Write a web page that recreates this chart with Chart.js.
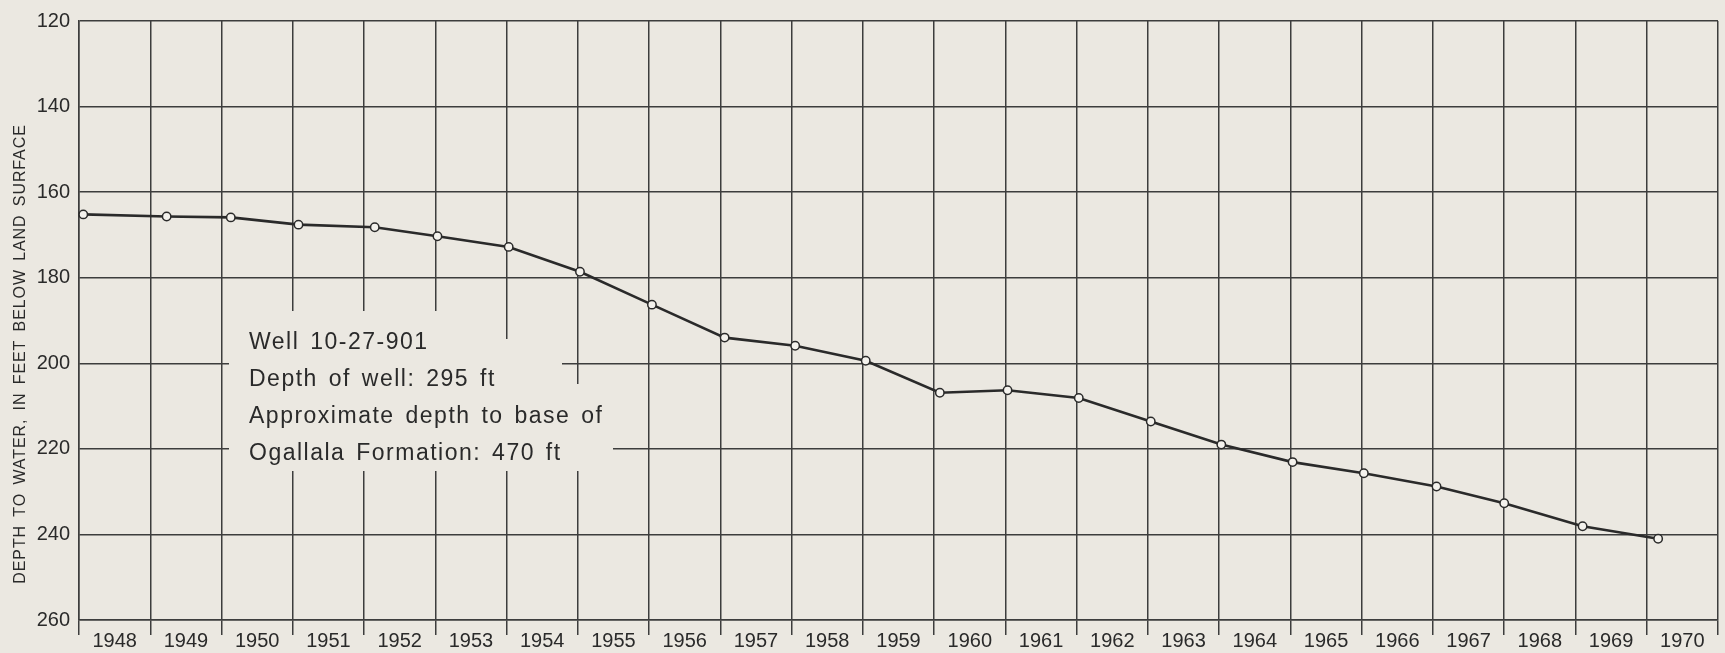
<!DOCTYPE html>
<html>
<head>
<meta charset="utf-8">
<title>Well 10-27-901 hydrograph</title>
<script src="https://cdn.jsdelivr.net/npm/chart.js@4/dist/chart.umd.min.js"></script>
<style>
  html, body { margin: 0; padding: 0; background: #ebe8e1; }
  canvas { display: block; }
</style>
</head>
<body>
<canvas id="hydrograph" width="1725" height="653"></canvas>
<script>
// Measurement dates (decimal years) and depth to water, feet below land surface
const measuredAt = [1948.06, 1949.23, 1950.13, 1951.08, 1952.15, 1953.03, 1954.03, 1955.03,
  1956.04, 1957.06, 1958.05, 1959.04, 1960.08, 1961.03, 1962.03, 1963.04, 1964.03,
  1965.03, 1966.03, 1967.05, 1968.0, 1969.1, 1970.16];
const depthToWater = [165.2, 165.7, 165.9, 167.6, 168.2, 170.3, 172.8, 178.6,
  186.3, 194.0, 195.9, 199.4, 206.9, 206.3, 208.1, 213.6, 219.0,
  223.1, 225.7, 228.8, 232.7, 238.1, 241.0];

const yearLabels = ['1948', '1949', '1950', '1951', '1952', '1953', '1954', '1955', '1956',
  '1957', '1958', '1959', '1960', '1961', '1962', '1963', '1964', '1965', '1966', '1967',
  '1968', '1969', '1970'];
const depthTicks = [120, 140, 160, 180, 200, 220, 240, 260];

const wellNotes = ['Well 10-27-901', 'Depth of well: 295 ft', 'Approximate depth to base of',
  'Ogallala Formation: 470 ft'];
const axisTitle = 'DEPTH TO WATER, IN FEET BELOW LAND SURFACE';

const paper = '#ebe8e1';
const ink = '#2a2a2a';
const gridInk = '#3d3d3d';
const face = '"Liberation Sans", Arial, sans-serif';

// blank patches behind the note so the grid doesn't run through the lettering
const noteMask = [[150, 290, 251, 40], [150, 318, 333, 47], [150, 363, 391, 42], [150, 405, 384, 45]];

const sheetText = {
  id: 'sheetText',
  beforeDatasetsDraw(chart) {
    const { ctx, chartArea: a } = chart;
    ctx.save();
    ctx.fillStyle = paper;
    noteMask.forEach(([x, y, w, h]) => ctx.fillRect(a.left + x, a.top + y, w, h));
    ctx.fillStyle = ink;
    ctx.font = '23px ' + face;
    ctx.letterSpacing = '1.5px';
    ctx.wordSpacing = '3px';
    ctx.textBaseline = 'alphabetic';
    wellNotes.forEach((line, i) => ctx.fillText(line, a.left + 170, a.top + 328 + i * 37));
    ctx.restore();
  },
  afterDraw(chart) {
    const { ctx, chartArea: a } = chart;
    const xs = chart.scales.x;
    ctx.save();
    ctx.fillStyle = ink;

    // year names sit in the middle of each year's column
    ctx.font = '20px ' + face;
    ctx.textAlign = 'center';
    ctx.textBaseline = 'alphabetic';
    yearLabels.forEach(y => {
      const yr = Number(y);
      const cx = (xs.getPixelForValue(yr) + xs.getPixelForValue(yr + 1)) / 2;
      ctx.fillText(y, cx, a.bottom + 27);
    });

    // vertical axis title
    ctx.font = '16px ' + face;
    ctx.letterSpacing = '0.9px';
    ctx.wordSpacing = '3px';
    ctx.textBaseline = 'middle';
    ctx.translate(21, 354);
    ctx.rotate(-Math.PI / 2);
    ctx.fillText(axisTitle, 0, 0);
    ctx.restore();
  }
};

new Chart(document.getElementById('hydrograph'), {
  type: 'line',
  data: {
    datasets: [{
      data: measuredAt.map((t, i) => ({ x: t, y: depthToWater[i] })),
      borderColor: ink,
      borderWidth: 2.6,
      pointRadius: 4.2,
      pointBorderWidth: 1.5,
      pointBackgroundColor: '#f4f2ed',
      pointBorderColor: ink,
      tension: 0,
      clip: false
    }]
  },
  options: {
    responsive: false,
    animation: false,
    layout: { padding: { top: 15, right: 7, bottom: 0, left: 0 } },
    plugins: {
      legend: { display: false },
      tooltip: { enabled: false }
    },
    scales: {
      x: {
        type: 'linear',
        min: Number(yearLabels[0]),
        max: Number(yearLabels[yearLabels.length - 1]) + 1,
        ticks: { stepSize: 1, display: false },
        grid: { color: gridInk, lineWidth: 1.5, tickLength: 15 },
        border: { color: gridInk, width: 1.5 },
        afterFit: s => { s.height = 33; }
      },
      y: {
        reverse: true,
        min: depthTicks[0],
        max: depthTicks[depthTicks.length - 1],
        afterBuildTicks: s => { s.ticks = depthTicks.map(v => ({ value: v })); },
        ticks: { color: ink, font: { family: face, size: 20 }, padding: 9 },
        grid: { color: gridInk, lineWidth: 1.5, drawTicks: false },
        border: { color: gridInk, width: 1.5 },
        afterFit: s => { s.width = 79; }
      }
    }
  },
  plugins: [sheetText]
});
</script>
</body>
</html>
